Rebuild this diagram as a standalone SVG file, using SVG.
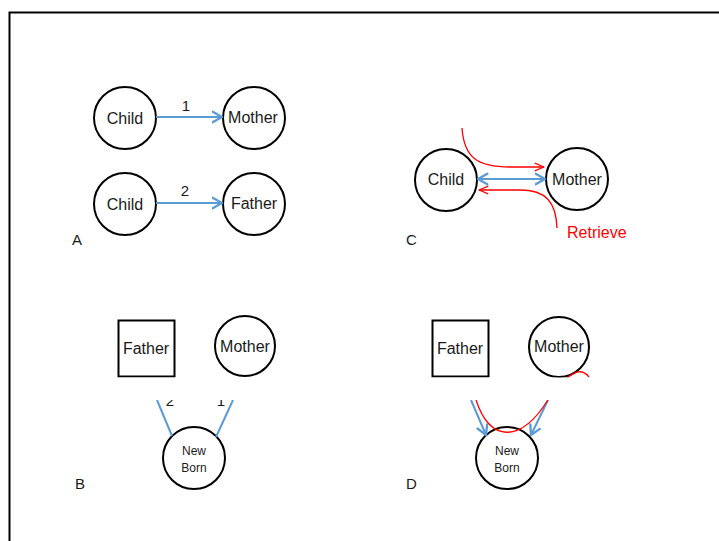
<svg xmlns="http://www.w3.org/2000/svg" width="719" height="541" viewBox="0 0 719 541">
<defs>
<marker id="ab" markerUnits="userSpaceOnUse" markerWidth="14" markerHeight="14" refX="9" refY="5" orient="auto-start-reverse" viewBox="0 0 12 10">
<path d="M1,0.5 L9,5 L1,9.5" fill="none" stroke="#5B9BD5" stroke-width="2" stroke-linecap="round" stroke-linejoin="round"/>
</marker>
<marker id="ar" markerUnits="userSpaceOnUse" markerWidth="12" markerHeight="12" refX="9" refY="4" orient="auto-start-reverse" viewBox="0 0 11 8">
<path d="M0.5,0.5 L9,4 L0.5,7.5" fill="none" stroke="#FF0000" stroke-width="1.2" stroke-linejoin="round"/>
</marker>
</defs>
<style>
.n{fill:#fff;stroke:#000;stroke-width:2}
.t{font-family:"Liberation Sans",Arial,sans-serif;font-size:16px;fill:#1a1a1a;text-anchor:middle}
.s{font-size:12px}
.l{font-family:"Liberation Sans",Arial,sans-serif;font-size:15px;fill:#1a1a1a}
.b{fill:none;stroke:#5B9BD5;stroke-width:2}
.r{fill:none;stroke:#FF0000;stroke-width:1.3}
</style>
<rect width="719" height="541" fill="#fff"/>
<path d="M9.5,541 V12.5 H719" fill="none" stroke="#000" stroke-width="2"/>

<g id="childA1"><circle class="n" cx="125" cy="118" r="31"/><text class="t" x="125" y="124">Child</text></g>
<g id="motherA"><circle class="n" cx="254" cy="118" r="31"/><text class="t" x="253" y="123">Mother</text></g>
<g id="childA2"><circle class="n" cx="125" cy="204" r="31"/><text class="t" x="125" y="210">Child</text></g>
<g id="fatherA"><circle class="n" cx="254" cy="204" r="31"/><text class="t" x="254" y="209">Father</text></g>
<text class="l" x="186" y="111" text-anchor="middle">1</text>
<text class="l" x="185" y="196" text-anchor="middle">2</text>
<text class="l" x="72" y="245">A</text>

<g id="childC"><circle class="n" cx="446" cy="180" r="31"/><text class="t" x="446" y="185">Child</text></g>
<g id="motherC"><circle class="n" cx="577" cy="179" r="31"/><text class="t" x="577" y="185">Mother</text></g>
<text x="567" y="238" font-family="Liberation Sans,Arial,sans-serif" font-size="16" fill="#FF0000">Retrieve</text>
<text class="l" x="406" y="245">C</text>

<g id="fatherB"><rect class="n" x="118.5" y="320.5" width="56" height="56"/><text class="t" x="146" y="354">Father</text></g>
<g id="motherB"><circle class="n" cx="245" cy="346" r="30"/><text class="t" x="245" y="352" font-size="17">Mother</text></g>
<text class="l" x="170" y="406" text-anchor="middle">2</text>
<text class="l" x="221" y="406" text-anchor="middle">1</text>
<g id="newbornB"><circle class="n" cx="194" cy="458" r="31"/><text class="t s" x="194" y="455">New</text><text class="t s" x="194" y="472">Born</text></g>
<text class="l" x="75" y="489">B</text>

<g id="fatherD"><rect class="n" x="432.5" y="320.5" width="56" height="56"/><text class="t" x="460" y="354">Father</text></g>
<g id="motherD"><circle class="n" cx="559" cy="347" r="30"/><text class="t" x="559" y="352" font-size="17">Mother</text></g>
<g id="newbornD"><circle class="n" cx="507" cy="458" r="31"/><text class="t s" x="507" y="455">New</text><text class="t s" x="507" y="472">Born</text></g>
<text class="l" x="406" y="489">D</text>

<g id="connectors">
<line class="b" x1="156" y1="117" x2="222" y2="117" marker-end="url(#ab)"/>
<line class="b" x1="156" y1="203" x2="222" y2="203" marker-end="url(#ab)"/>
<line class="b" x1="478" y1="179" x2="545" y2="179" marker-start="url(#ab)" marker-end="url(#ab)"/>
<path class="r" d="M462,128 C464,158 478,167 510,167 L544,167" marker-end="url(#ar)"/>
<path class="r" d="M479,190 L520,190 C546,190 556,202 557,228" marker-start="url(#ar)"/>
<line class="b" x1="157" y1="400" x2="172" y2="436"/>
<line class="b" x1="233" y1="400" x2="216" y2="437"/>
<line class="b" x1="471" y1="400" x2="486" y2="435" marker-end="url(#ab)"/>
<line class="b" x1="548" y1="400" x2="531" y2="435" marker-end="url(#ab)"/>
<path class="r" d="M476,400 C490,442 520,444 548,400" stroke-width="2"/>
<path class="r" d="M567,378 C574,372 582,368 589,377" stroke-width="2"/>
</g>

<rect x="11" y="377.5" width="708" height="22.5" fill="#fff"/>
</svg>
